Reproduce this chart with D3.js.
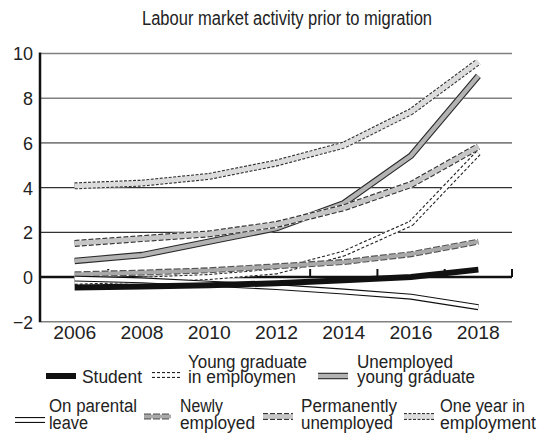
<!DOCTYPE html>
<html>
<head>
<meta charset="utf-8">
<script src="https://cdn.jsdelivr.net/npm/d3@7"></script>
<style>
  html, body { margin: 0; padding: 0; background: #fff; }
  svg text { font-family: "Liberation Sans", Arial, sans-serif; fill: #222; }
</style>
</head>
<body>
<svg id="chart" width="545" height="434"></svg>
<script>
// Survey years shown on the horizontal axis
const years = ["2006", "2008", "2010", "2012", "2014", "2016", "2018"];
const yTicks = [-2, 0, 2, 4, 6, 8, 10];

// One array per labour-market status
const student       = [-0.47, -0.43, -0.37, -0.28, -0.15, 0.0, 0.33];
const youngGradEmp  = [-0.22, -0.12, 0.0, 0.25, 1.05, 2.4, 5.55];
const unemployedYG  = [0.72, 0.98, 1.58, 2.19, 3.3, 5.43, 9.0];
const parental      = [-0.07, -0.15, -0.3, -0.45, -0.65, -0.88, -1.35];
const newlyEmployed = [0.12, 0.2, 0.3, 0.48, 0.67, 1.02, 1.58];
const permUnemp     = [1.5, 1.72, 1.93, 2.35, 3.1, 4.14, 5.83];
const oneYearEmp    = [4.08, 4.2, 4.5, 5.1, 5.9, 7.4, 9.63];

const series = [
  { name: ["Student"], values: student, fill: "#111", outline: null, w: 6, dash: null,
    lx: 46, ly: 376, sw: 30, tx: 82, ty: [383], tw: [60] },
  { name: ["Young graduate", "in employmen"], values: youngGradEmp, fill: "#fff", outline: "#222", w: 6, dash: "3,2",
    lx: 152, ly: 375, sw: 30, tx: 188, ty: [367.5, 383], tw: [119, 108] },
  { name: ["Unemployed", "young graduate"], values: unemployedYG, fill: "#b3b3b3", outline: "#2a2a2a", w: 6.5, dash: null,
    lx: 318, ly: 376, sw: 30, tx: 357, ty: [367.5, 383], tw: [96, 118] },
  { name: ["On parental", "leave"], values: parental, fill: "#fff", outline: "#111", w: 6, dash: null,
    lx: 15, ly: 420, sw: 30, tx: 49, ty: [411.5, 428.5], tw: [88, 39] },
  { name: ["Newly", "employed"], values: newlyEmployed, fill: "#a9a9a9", outline: "#555", w: 6, dash: "7,2",
    lx: 144, ly: 416.5, sw: 27, tx: 180, ty: [411.5, 428.5], tw: [43, 75] },
  { name: ["Permanently", "unemployed"], values: permUnemp, fill: "#c6c6c6", outline: "#333", w: 7, dash: "5,2",
    lx: 263, ly: 416.5, sw: 30, tx: 301, ty: [411.5, 428.5], tw: [96, 92] },
  { name: ["One year in", "employment"], values: oneYearEmp, fill: "#dcdcdc", outline: "#333", w: 7, dash: "3,1.5",
    lx: 404, ly: 416.5, sw: 30, tx: 440, ty: [411.5, 428.5], tw: [85, 96] }
];

const svg = d3.select("#chart");
const plotLeft = 41, plotRight = 512, plotTop = 53.5, plotBottom = 321.7;

const x = d3.scaleBand().domain(years).range([plotLeft, plotRight]).paddingInner(0).paddingOuter(0);
const y = d3.scaleLinear().domain([-2, 10]).range([plotBottom, plotTop]);
const cx = d => x(d) + x.bandwidth() / 2;

// Title
svg.append("text")
  .attr("x", 142).attr("y", 25)
  .attr("font-size", 19.5)
  .attr("textLength", 290).attr("lengthAdjust", "spacingAndGlyphs")
  .text("Labour market activity prior to migration");

// Horizontal gridlines
const grid = svg.append("g");
yTicks.filter(t => t !== 0).forEach(t => {
  grid.append("line")
    .attr("x1", plotLeft).attr("x2", plotRight)
    .attr("y1", y(t)).attr("y2", y(t))
    .attr("stroke", (t === 2 || t === 4) ? "#333" : "#808080")
    .attr("stroke-width", (t === 2 || t === 4) ? 1.2 : 1.6);
});

// Y axis labels
const yAxis = d3.axisLeft(y).tickValues(yTicks).tickSize(0).tickPadding(8)
  .tickFormat(d => d < 0 ? "\u2212" + Math.abs(d) : String(d));
const gy = svg.append("g").attr("transform", `translate(${plotLeft},0)`).call(yAxis);
gy.select(".domain").remove();
gy.selectAll("text")
  .attr("font-size", 19)
  .attr("x", -8)
  .attr("dy", "0.34em")
  .attr("textLength", d => String(Math.abs(d)).length * 10 + (d < 0 ? 10 : 0))
  .attr("lengthAdjust", "spacingAndGlyphs");

// X axis labels under the bottom gridline
const xAxis = d3.axisBottom(x).tickSize(0).tickPadding(0);
const gx = svg.append("g").attr("transform", `translate(0,${plotBottom})`).call(xAxis);
gx.select(".domain").remove();
gx.selectAll("text")
  .attr("font-size", 19)
  .attr("y", 17.5).attr("dy", 0)
  .attr("textLength", 43).attr("lengthAdjust", "spacingAndGlyphs");

// Y axis line
svg.append("line")
  .attr("x1", plotLeft - 1).attr("x2", plotLeft - 1)
  .attr("y1", plotTop - 1).attr("y2", plotBottom + 0.5)
  .attr("stroke", "#111").attr("stroke-width", 2.5);

// Zero line with short upward ticks at category boundaries
svg.append("line")
  .attr("x1", plotLeft - 1).attr("x2", plotRight)
  .attr("y1", y(0)).attr("y2", y(0))
  .attr("stroke", "#111").attr("stroke-width", 2.5);
const bounds = years.slice(1).map(d => x(d)).concat([plotRight]);
svg.append("g").selectAll("line").data(bounds).join("line")
  .attr("x1", d => d).attr("x2", d => d)
  .attr("y1", y(0)).attr("y2", y(0) - 8)
  .attr("stroke", "#111").attr("stroke-width", 2);

// Series lines: an outline stroke with a narrower fill stroke on top
const line = d3.line().x((d, i) => cx(years[i])).y(d => y(d));

function drawBand(g, pathD, s) {
  if (s.outline) {
    g.append("path").attr("d", pathD)
      .attr("fill", "none")
      .attr("stroke", "#fff").attr("stroke-width", s.w);
    g.append("path").attr("d", pathD)
      .attr("fill", "none")
      .attr("stroke", s.outline).attr("stroke-width", s.w)
      .attr("stroke-dasharray", s.dash);
    g.append("path").attr("d", pathD)
      .attr("fill", "none")
      .attr("stroke", s.fill).attr("stroke-width", s.w - 2.2);
  } else {
    g.append("path").attr("d", pathD)
      .attr("fill", "none")
      .attr("stroke", s.fill).attr("stroke-width", s.w);
  }
}

const lines = svg.append("g");
const drawOrder = [6, 2, 5, 1, 4, 3, 0];
drawOrder.forEach(i => {
  const s = series[i];
  drawBand(lines.append("g"), line(s.values), s);
});

// Legend
const legend = svg.append("g");
series.forEach(s => {
  const g = legend.append("g");
  drawBand(g, `M${s.lx},${s.ly}H${s.lx + s.sw}`, s);
  s.name.forEach((t, k) => {
    g.append("text")
      .attr("x", s.tx).attr("y", s.ty[k])
      .attr("font-size", 18)
      .attr("textLength", s.tw[k]).attr("lengthAdjust", "spacingAndGlyphs")
      .text(t);
  });
});
</script>
</body>
</html>
